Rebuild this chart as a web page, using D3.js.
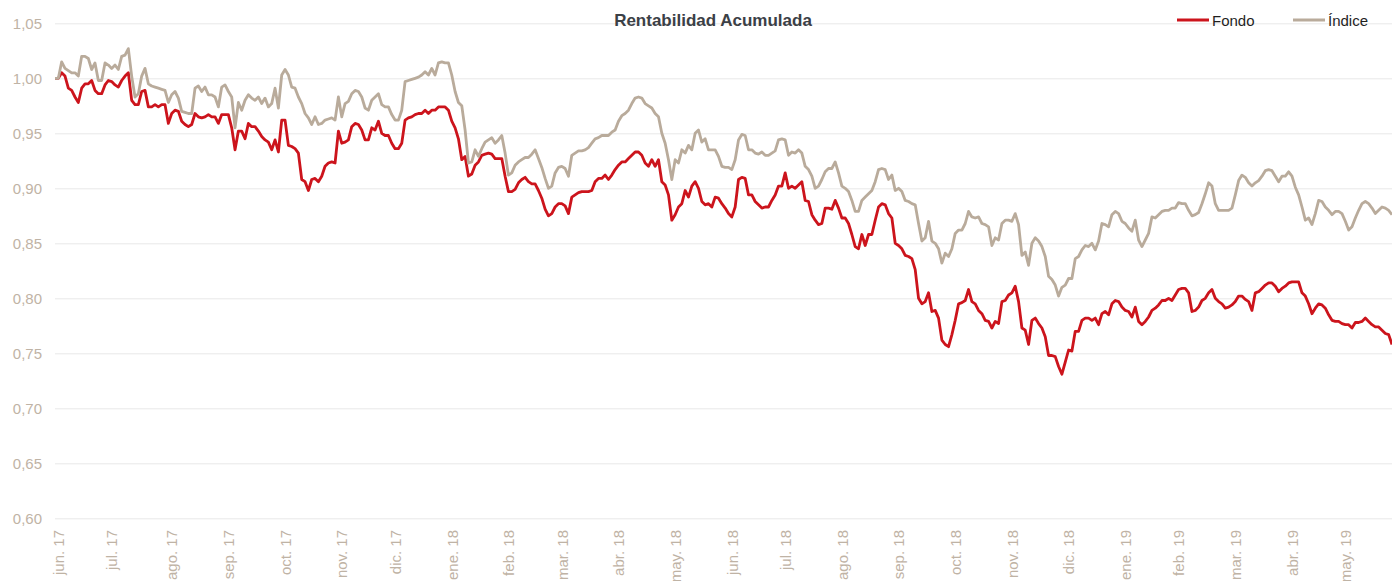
<!DOCTYPE html>
<html>
<head>
<meta charset="utf-8">
<script src="https://cdn.jsdelivr.net/npm/d3@7"></script>
<style>
  html, body { margin: 0; padding: 0; background: #fff; }
  svg { display: block; font-family: "Liberation Sans", Arial, sans-serif; }
</style>
</head>
<body>
<svg id="chart" width="1392" height="581"></svg>
<script>
// ---- data ----
const title = "Rentabilidad Acumulada";
const seriesNames = ["Fondo", "Índice"];
const monthLabels = ["jun. 17","jul. 17","ago. 17","sep. 17","oct. 17","nov. 17","dic. 17","ene. 18","feb. 18","mar. 18","abr. 18","may. 18","jun. 18","jul. 18","ago. 18","sep. 18","oct. 18","nov. 18","dic. 18","ene. 19","feb. 19","mar. 19","abr. 19","may. 19"];
const monthStartObs = [1,17,35,52,69,86,102,119,136,152,169,186,203,219,236,253,270,287,304,321,337,354,371,387];
const yTicks = [0.60,0.65,0.70,0.75,0.80,0.85,0.90,0.95,1.00,1.05];

const fondo = [
1.000,1.000,1.005,1.002,0.991,0.989,0.983,0.978,0.991,0.995,
0.995,0.998,0.989,0.986,0.986,0.994,0.998,0.997,0.994,0.992,
0.998,1.002,1.005,0.980,0.976,0.976,0.988,0.989,0.974,0.974,
0.976,0.974,0.976,0.976,0.959,0.968,0.971,0.970,0.961,0.958,
0.956,0.958,0.968,0.965,0.964,0.965,0.967,0.965,0.965,0.959,
0.967,0.967,0.967,0.955,0.935,0.952,0.952,0.945,0.959,0.956,
0.956,0.952,0.947,0.944,0.942,0.935,0.944,0.933,0.962,0.962,
0.939,0.938,0.936,0.932,0.908,0.906,0.898,0.908,0.909,0.906,
0.911,0.920,0.923,0.924,0.923,0.952,0.941,0.942,0.944,0.956,
0.959,0.958,0.953,0.944,0.944,0.955,0.953,0.961,0.950,0.948,
0.948,0.941,0.936,0.936,0.941,0.962,0.964,0.965,0.967,0.968,
0.968,0.971,0.968,0.971,0.971,0.974,0.974,0.974,0.971,0.961,
0.955,0.945,0.926,0.929,0.911,0.913,0.921,0.924,0.930,0.931,
0.932,0.931,0.927,0.927,0.927,0.911,0.897,0.897,0.899,0.905,
0.908,0.910,0.906,0.904,0.904,0.898,0.891,0.881,0.875,0.877,
0.883,0.886,0.886,0.884,0.877,0.892,0.894,0.896,0.897,0.897,
0.897,0.898,0.906,0.909,0.909,0.912,0.908,0.912,0.917,0.921,
0.924,0.924,0.927,0.930,0.933,0.933,0.930,0.923,0.920,0.926,
0.920,0.926,0.906,0.903,0.894,0.871,0.876,0.883,0.886,0.898,
0.892,0.902,0.906,0.900,0.888,0.885,0.886,0.883,0.892,0.891,
0.886,0.882,0.877,0.874,0.883,0.908,0.910,0.909,0.894,0.894,
0.888,0.885,0.882,0.883,0.883,0.889,0.894,0.902,0.902,0.914,
0.900,0.902,0.900,0.903,0.906,0.889,0.888,0.876,0.871,0.867,
0.868,0.882,0.882,0.881,0.889,0.882,0.873,0.873,0.868,0.858,
0.847,0.845,0.858,0.848,0.858,0.858,0.871,0.883,0.886,0.885,
0.877,0.873,0.850,0.848,0.845,0.839,0.838,0.836,0.826,0.800,
0.795,0.797,0.805,0.788,0.789,0.782,0.762,0.758,0.756,0.767,
0.780,0.795,0.796,0.798,0.808,0.797,0.795,0.789,0.786,0.780,
0.779,0.773,0.779,0.777,0.797,0.798,0.803,0.805,0.811,0.797,
0.773,0.771,0.758,0.780,0.782,0.777,0.773,0.765,0.748,0.748,
0.747,0.738,0.731,0.742,0.753,0.752,0.770,0.770,0.780,0.782,
0.782,0.780,0.782,0.776,0.786,0.788,0.785,0.795,0.798,0.797,
0.792,0.789,0.788,0.783,0.792,0.779,0.776,0.779,0.783,0.789,
0.791,0.794,0.798,0.798,0.800,0.798,0.803,0.808,0.809,0.809,
0.805,0.788,0.789,0.792,0.798,0.800,0.805,0.808,0.800,0.797,
0.795,0.791,0.792,0.794,0.797,0.802,0.802,0.799,0.797,0.789,
0.805,0.806,0.809,0.812,0.814,0.814,0.811,0.806,0.809,0.811,
0.814,0.815,0.815,0.815,0.805,0.802,0.795,0.786,0.791,0.795,
0.794,0.791,0.785,0.780,0.779,0.779,0.777,0.776,0.776,0.773,
0.778,0.778,0.779,0.782,0.779,0.776,0.774,0.774,0.771,0.768,
0.767,0.758
];

const indice = [
1.000,1.000,1.015,1.009,1.007,1.005,1.005,1.002,1.020,1.020,
1.018,1.008,1.014,0.998,0.998,1.014,1.012,1.009,1.012,1.008,
1.020,1.021,1.027,1.002,0.983,0.986,1.002,1.009,0.995,0.993,
0.992,0.991,0.990,0.989,0.978,0.985,0.988,0.982,0.970,0.969,
0.968,0.968,0.991,0.993,0.988,0.992,0.985,0.985,0.983,0.974,
0.992,0.994,0.988,0.983,0.955,0.978,0.971,0.980,0.985,0.982,
0.980,0.983,0.977,0.982,0.974,0.977,0.991,0.973,1.003,1.008,
1.003,0.992,0.991,0.983,0.977,0.968,0.964,0.958,0.965,0.958,
0.959,0.962,0.963,0.964,0.962,0.983,0.965,0.977,0.979,0.986,
0.989,0.988,0.983,0.973,0.971,0.980,0.983,0.986,0.976,0.974,
0.974,0.967,0.962,0.962,0.971,0.997,0.998,0.999,1.000,1.001,
1.003,1.006,1.003,1.009,1.003,1.014,1.015,1.014,1.014,1.003,
0.988,0.978,0.975,0.953,0.923,0.924,0.935,0.929,0.936,0.942,
0.944,0.946,0.941,0.944,0.948,0.932,0.912,0.914,0.921,0.924,
0.926,0.928,0.928,0.931,0.935,0.927,0.919,0.909,0.900,0.902,
0.914,0.919,0.920,0.918,0.911,0.930,0.932,0.934,0.934,0.935,
0.937,0.941,0.945,0.946,0.948,0.948,0.948,0.951,0.953,0.961,
0.966,0.968,0.971,0.977,0.982,0.983,0.982,0.977,0.975,0.973,
0.968,0.965,0.950,0.941,0.926,0.908,0.926,0.923,0.935,0.932,
0.939,0.935,0.950,0.953,0.942,0.945,0.935,0.935,0.935,0.929,
0.920,0.919,0.919,0.917,0.926,0.944,0.949,0.948,0.935,0.935,
0.932,0.931,0.933,0.930,0.930,0.932,0.934,0.944,0.945,0.944,
0.930,0.933,0.932,0.935,0.932,0.920,0.917,0.911,0.900,0.902,
0.908,0.915,0.918,0.918,0.924,0.914,0.902,0.900,0.897,0.889,
0.879,0.879,0.889,0.892,0.895,0.898,0.906,0.917,0.918,0.917,
0.908,0.912,0.898,0.900,0.897,0.889,0.888,0.886,0.885,0.868,
0.852,0.855,0.870,0.852,0.850,0.845,0.832,0.841,0.838,0.845,
0.859,0.862,0.862,0.868,0.879,0.874,0.873,0.874,0.868,0.867,
0.865,0.848,0.855,0.853,0.868,0.871,0.871,0.870,0.877,0.867,
0.839,0.842,0.830,0.850,0.855,0.852,0.847,0.838,0.820,0.817,
0.812,0.802,0.810,0.812,0.818,0.818,0.836,0.838,0.844,0.848,
0.847,0.850,0.844,0.852,0.868,0.867,0.865,0.876,0.879,0.877,
0.870,0.868,0.864,0.861,0.871,0.853,0.847,0.853,0.859,0.874,
0.873,0.876,0.879,0.880,0.880,0.882,0.882,0.887,0.886,0.886,
0.880,0.875,0.876,0.878,0.886,0.895,0.905,0.902,0.886,0.880,
0.880,0.880,0.880,0.882,0.894,0.907,0.912,0.910,0.905,0.902,
0.905,0.907,0.911,0.916,0.917,0.916,0.911,0.906,0.911,0.911,
0.915,0.911,0.901,0.894,0.883,0.871,0.873,0.867,0.877,0.889,
0.888,0.883,0.880,0.876,0.879,0.879,0.877,0.870,0.862,0.865,
0.873,0.880,0.886,0.888,0.886,0.882,0.877,0.880,0.883,0.882,
0.880,0.876
];

// ---- chart ----
const W = 1392, H = 581;
const M = { left: 55, right: 0, top: 24, bottom: 62 };
const svg = d3.select("#chart");

const x = d3.scaleLinear().domain([0, fondo.length - 1]).range([M.left, W - M.right]);
const y = d3.scaleLinear().domain([0.60, 1.05]).range([518.3, 23.3]);

const esLocale = d3.formatLocale({ decimal: ",", thousands: ".", grouping: [3], currency: ["", " €"] });
const fmt = esLocale.format(".2f");

const axisColor = "#bfb3a5";

// Grid lines + y labels
const yAxis = svg.append("g")
  .attr("transform", `translate(${M.left},0)`)
  .call(d3.axisLeft(y).tickValues(yTicks).tickFormat(fmt)
        .tickSize(-(W - M.right - M.left)).tickPadding(13));
yAxis.select(".domain").remove();
yAxis.selectAll(".tick line").attr("stroke", "#e8e8e8").attr("stroke-width", 1);
yAxis.selectAll(".tick text")
  .attr("fill", axisColor)
  .style("font-size", "15px")
  .style("font-family", "'Liberation Sans', Arial, sans-serif");

// X axis (month labels, rotated)
const xAxis = svg.append("g")
  .attr("transform", `translate(0,530)`)
  .call(d3.axisBottom(x).tickValues(monthStartObs)
        .tickFormat((d, i) => monthLabels[i]).tickSize(0).tickPadding(0));
xAxis.select(".domain").remove();
xAxis.selectAll(".tick text")
  .attr("fill", axisColor)
  .style("font-size", "15px")
  .style("font-family", "'Liberation Sans', Arial, sans-serif")
  .attr("text-anchor", "end")
  .attr("transform", "rotate(-90)")
  .attr("x", 0)
  .attr("y", 0)
  .attr("dy", "0.35em");

// Lines
const line = d3.line().x((d, i) => x(i)).y(d => y(d));
const colors = { "Fondo": "#cc141c", "Índice": "#b9ab9b" };

svg.append("path")
  .datum(fondo)
  .attr("fill", "none")
  .attr("stroke", colors["Fondo"])
  .attr("stroke-width", 2.8)
  .attr("stroke-linejoin", "round")
  .attr("d", line);

svg.append("path")
  .datum(indice)
  .attr("fill", "none")
  .attr("stroke", colors["Índice"])
  .attr("stroke-width", 2.8)
  .attr("stroke-linejoin", "round")
  .attr("d", line);

// Title
svg.append("text")
  .attr("x", 713).attr("y", 26)
  .attr("text-anchor", "middle")
  .attr("fill", "#3b4046")
  .style("font-size", "17px")
  .style("font-weight", "bold")
  .text(title);

// Legend
const legendX = [1177, 1293];
seriesNames.forEach((name, i) => {
  const g = svg.append("g").attr("transform", `translate(${legendX[i]},20)`);
  g.append("line").attr("x1", 0).attr("x2", 32).attr("y1", 0).attr("y2", 0)
    .attr("stroke", colors[name]).attr("stroke-width", 3);
  g.append("text").attr("x", 35).attr("y", 5.5)
    .attr("fill", "#1f1f1f").style("font-size", "15px").text(name);
});
</script>
</body>
</html>
